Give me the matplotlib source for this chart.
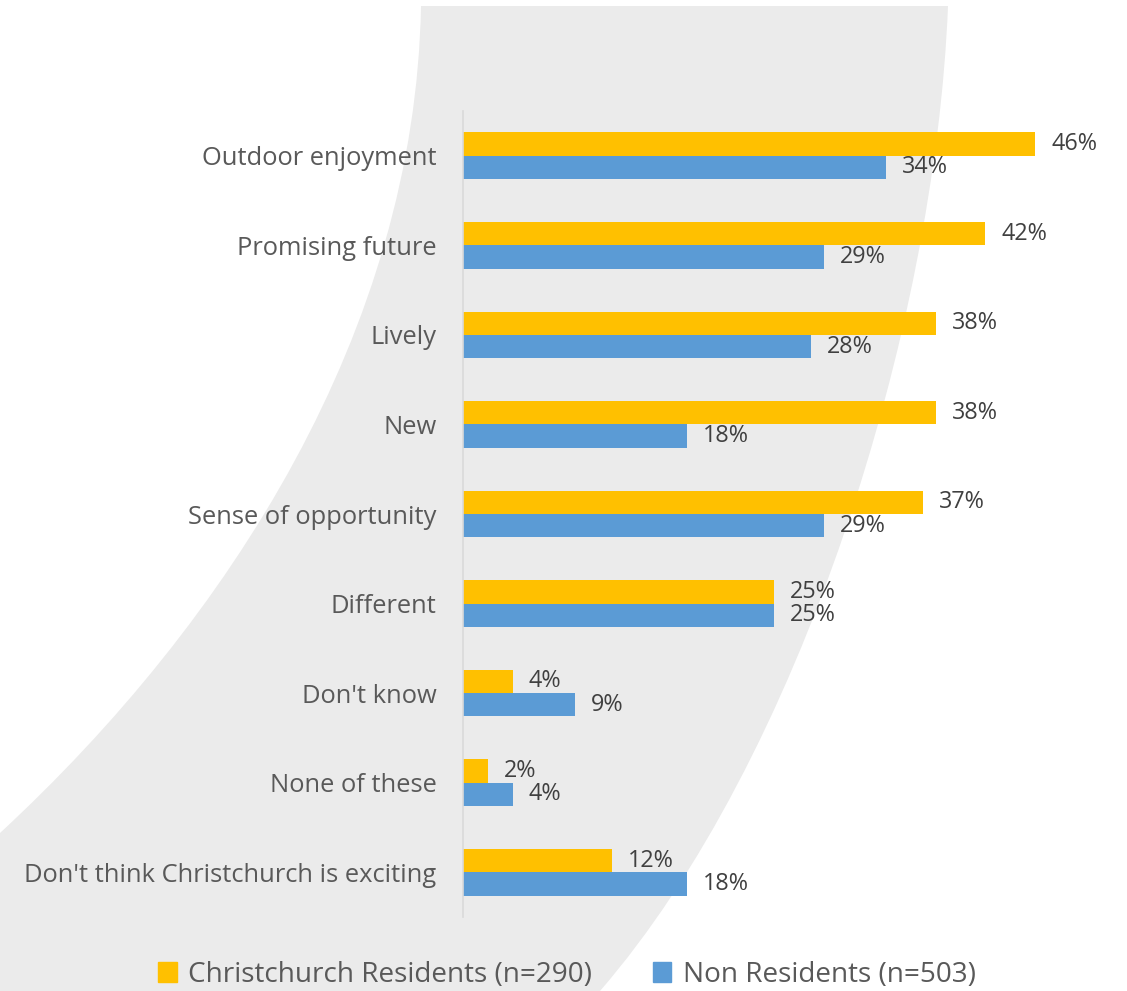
import numpy as np
import matplotlib
matplotlib.use("Agg")
import matplotlib.pyplot as plt
from matplotlib.path import Path
from matplotlib.patches import PathPatch, Patch

categories = ["Outdoor enjoyment", "Promising future", "Lively", "New",
              "Sense of opportunity", "Different", "Don't know", "None of these",
              "Don't think Christchurch is exciting"]
residents = [46, 42, 38, 38, 37, 25, 4, 2, 12]
non_residents = [34, 29, 28, 18, 29, 25, 9, 4, 18]
series_names = ["Christchurch Residents (n=290)", "Non Residents (n=503)"]

YELLOW = "#FFC000"
BLUE = "#5B9BD5"
LABEL_GREY = "#595959"
VALUE_GREY = "#404040"

plt.rcParams["font.family"] = ["Open Sans", "DejaVu Sans"]

W, H = 1127, 991
fig = plt.figure(figsize=(W / 100, H / 100), dpi=100)

# decorative grey swoosh behind the chart, drawn in pixel space
bg = fig.add_axes([0, 0, 1, 1], zorder=0)
bg.set_xlim(0, W)
bg.set_ylim(H, 0)
bg.axis("off")
verts = [(421, 6), (948, 6),
         (935, 330), (800, 760), (600, 991),
         (0, 991), (0, 833),
         (230, 620), (415, 330), (421, 6),
         (421, 6)]
codes = [Path.MOVETO, Path.LINETO,
         Path.CURVE4, Path.CURVE4, Path.CURVE4,
         Path.LINETO, Path.LINETO,
         Path.CURVE4, Path.CURVE4, Path.CURVE4,
         Path.CLOSEPOLY]
bg.add_patch(PathPatch(Path(verts, codes), facecolor="#EBEBEB", edgecolor="none"))

# bar chart
x0 = 463 / W
ax = fig.add_axes([x0, 1 - 917 / H, 1 - x0, (917 - 111) / H], zorder=1)
ax.patch.set_alpha(0)
px_per_pct = (1035 - 463) / 46
ax.set_xlim(0, (W - 463) / px_per_pct)

y = np.arange(len(categories))
h = 0.26
ax.barh(y - h / 2, residents, height=h, color=YELLOW)
ax.barh(y + h / 2, non_residents, height=h, color=BLUE)
ax.set_ylim(len(categories) - 0.5, -0.5)

for yi, r, n in zip(y, residents, non_residents):
    ax.annotate(f"{r}%", (r, yi - h / 2), xytext=(16, 0), textcoords="offset pixels",
                va="center", ha="left", fontsize=16.8, color=VALUE_GREY)
    ax.annotate(f"{n}%", (n, yi + h / 2), xytext=(16, 0), textcoords="offset pixels",
                va="center", ha="left", fontsize=16.8, color=VALUE_GREY)

ax.set_yticks(y)
ax.set_yticklabels(categories, fontsize=18.4, color=LABEL_GREY)
ax.tick_params(axis="y", length=0, pad=19)
ax.set_xticks([])
for side in ["top", "right", "bottom"]:
    ax.spines[side].set_visible(False)
ax.spines["left"].set_color("#D9D9D9")
ax.spines["left"].set_linewidth(1.2)

handles = [Patch(color=YELLOW), Patch(color=BLUE)]
fig.legend(handles, series_names, loc="center", bbox_to_anchor=(567 / W, 1 - 975 / H),
           ncol=2, frameon=False, fontsize=20.1, labelcolor=LABEL_GREY,
           handlelength=0.65, handleheight=0.7, handletextpad=0.4, columnspacing=2.2)

fig.savefig("out.png", dpi=100)
